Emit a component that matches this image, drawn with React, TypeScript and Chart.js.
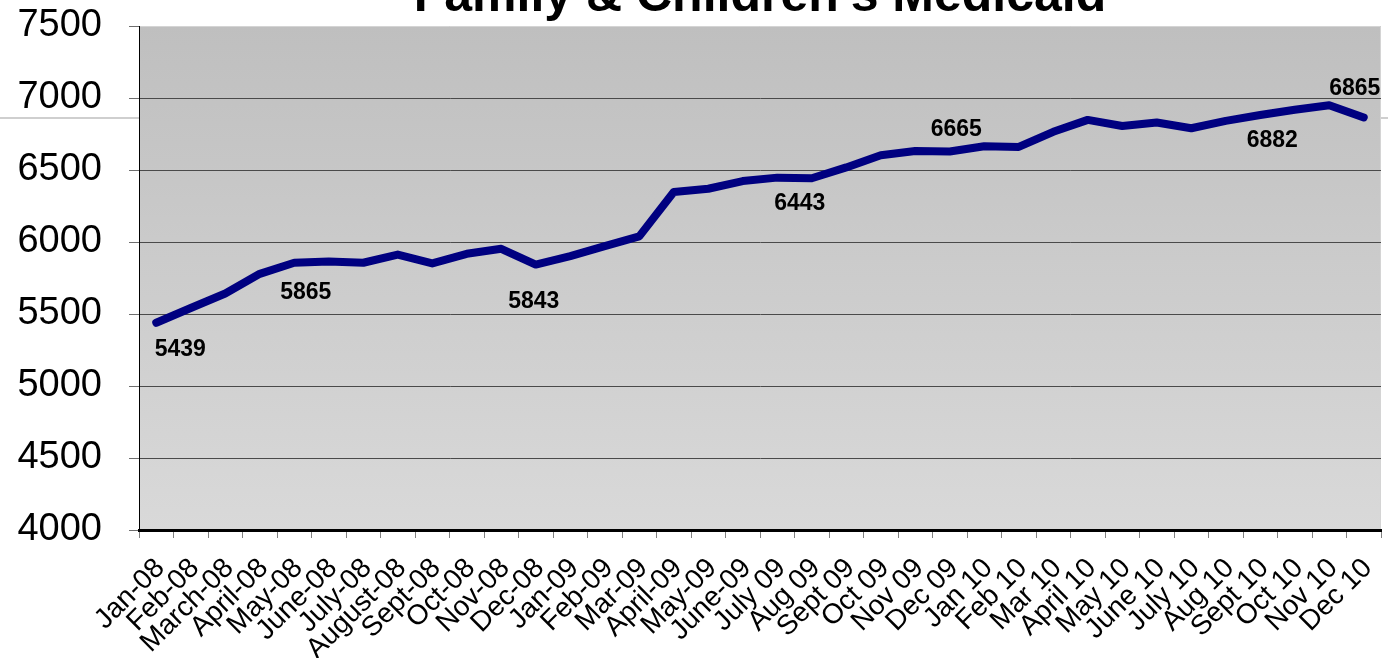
import React, { useEffect, useRef } from 'react';
import { Chart, registerables } from 'chart.js';

Chart.register(...registerables);

const TITLE = "Family & Children's Medicaid";

const CATEGORIES = [
  'Jan-08', 'Feb-08', 'March-08', 'April-08', 'May-08', 'June-08', 'July-08', 'August-08',
  'Sept-08', 'Oct-08', 'Nov-08', 'Dec-08', 'Jan-09', 'Feb-09', 'Mar-09', 'April-09',
  'May-09', 'June-09', 'July 09', 'Aug 09', 'Sept 09', 'Oct 09', 'Nov 09', 'Dec 09',
  'Jan 10', 'Feb 10', 'Mar 10', 'April 10', 'May 10', 'June 10', 'July 10', 'Aug 10',
  'Sept 10', 'Oct 10', 'Nov 10', 'Dec 10',
];

const ENROLLMENT = [
  5439, 5542, 5642, 5779, 5856, 5865, 5856, 5913,
  5851, 5918, 5953, 5843, 5902, 5971, 6039, 6347,
  6370, 6423, 6447, 6443, 6518, 6602, 6632, 6628,
  6665, 6660, 6765, 6848, 6806, 6830, 6790, 6841,
  6882, 6918, 6950, 6865,
];

const Y_MIN = 4000;
const Y_MAX = 7500;
const Y_STEP = 500;

const LABELED_CATEGORIES = ['Jan-08', 'June-08', 'Dec-08', 'Aug 09', 'Jan 10', 'Sept 10', 'Dec 10'];

// label placement (pixel offsets of label centre from the point)
const LABEL_OFFSETS: Record<string, [number, number]> = {
  'Jan-08': [24, 25],
  'June-08': [-23, 29],
  'Dec-08': [-2, 35],
  'Aug 09': [-12, 24],
  'Jan 10': [-28, -18],
  'Sept 10': [12, 24],
  'Dec 10': [-9, -31],
};

const FONT = '"Liberation Sans", Arial, Helvetica, sans-serif';

const decorPlugin = {
  id: 'decor',
  beforeDraw(chart: any) {
    const { ctx, chartArea } = chart;
    const { left, right, top, bottom } = chartArea;
    ctx.save();
    ctx.strokeStyle = '#cfcfcf';
    ctx.lineWidth = 2;
    ctx.beginPath();
    ctx.moveTo(0, 118);
    ctx.lineTo(chart.width, 118);
    ctx.stroke();
    const g = ctx.createLinearGradient(0, top, 0, bottom);
    g.addColorStop(0, '#bfbfbf');
    g.addColorStop(1, '#d9d9d9');
    ctx.fillStyle = g;
    ctx.fillRect(left, top, right - left, bottom - top);
    ctx.strokeStyle = '#d4d4d4';
    ctx.lineWidth = 1;
    ctx.beginPath();
    ctx.moveTo(left, top + 0.5);
    ctx.lineTo(right - 0.5, top + 0.5);
    ctx.lineTo(right - 0.5, bottom);
    ctx.stroke();
    ctx.restore();
  },
  afterDraw(chart: any) {
    const { ctx, chartArea } = chart;
    ctx.save();
    ctx.fillStyle = '#000';
    ctx.font = `bold 50px ${FONT}`;
    ctx.textAlign = 'center';
    ctx.textBaseline = 'alphabetic';
    ctx.fillText(TITLE, (chartArea.left + chartArea.right) / 2, 11);
    const meta = chart.getDatasetMeta(0);
    ctx.font = `bold 23px ${FONT}`;
    LABELED_CATEGORIES.forEach((cat) => {
      const i = CATEGORIES.indexOf(cat);
      const pt = meta.data[i];
      if (!pt) return;
      const off = LABEL_OFFSETS[cat] || [0, 24];
      ctx.fillText(String(ENROLLMENT[i]), pt.x + off[0], pt.y + off[1] + 8.2);
    });
    ctx.restore();
  },
};

export default function App() {
  const canvasRef = useRef<HTMLCanvasElement | null>(null);

  useEffect(() => {
    document.body.style.margin = '0';
    document.body.style.overflow = 'hidden';
    const canvas = canvasRef.current;
    if (!canvas) return;
    const chart = new Chart(canvas, {
      type: 'line',
      data: {
        labels: CATEGORIES,
        datasets: [
          {
            label: 'Enrollment',
            data: ENROLLMENT,
            borderColor: '#000080',
            backgroundColor: '#000080',
            borderWidth: 8,
            borderCapStyle: 'round',
            borderJoinStyle: 'round',
            pointRadius: 0,
            pointHoverRadius: 0,
            tension: 0,
            fill: false,
          },
        ],
      },
      options: {
        responsive: false,
        animation: false,
        events: [],
        layout: { padding: { top: 26, right: 7, left: 0, bottom: 0 } },
        plugins: {
          legend: { display: false },
          title: { display: false },
          tooltip: { enabled: false },
        },
        scales: {
          x: {
            type: 'category',
            offset: true,
            grid: {
              offset: true,
              drawOnChartArea: false,
              drawTicks: true,
              tickLength: 8,
              tickColor: '#808080',
              tickWidth: 1,
            },
            border: { display: true, color: '#000000', width: 3 },
            ticks: {
              autoSkip: false,
              minRotation: 45,
              maxRotation: 45,
              padding: 14,
              labelOffset: 4,
              color: '#000000',
              font: { family: FONT, size: 28 },
            },
            afterFit(scale: any) {
              scale.height = 128;
              scale.paddingLeft = 0;
              scale.paddingRight = 0;
            },
          },
          y: {
            min: Y_MIN,
            max: Y_MAX,
            grid: {
              color: (c: any) => (c.tick && c.tick.value === Y_MAX ? 'rgba(0,0,0,0)' : '#4a4a4a'),
              lineWidth: 1,
              tickLength: 10,
              tickColor: '#6e6e6e',
              tickWidth: 1,
            },
            border: { display: true, color: '#000000', width: 1 },
            ticks: {
              stepSize: Y_STEP,
              padding: 27,
              color: '#000000',
              font: { family: FONT, size: 38 },
              callback: (v: any) => String(v),
            },
            afterFit(scale: any) {
              scale.width = 139;
              scale.paddingTop = 0;
              scale.paddingBottom = 0;
            },
          },
        },
      },
      plugins: [decorPlugin],
    } as any);
    return () => chart.destroy();
  }, []);

  return (
    <div style={{ width: 1388, height: 658 }}>
      <canvas ref={canvasRef} width={1388} height={658} style={{ display: 'block' }} />
    </div>
  );
}
